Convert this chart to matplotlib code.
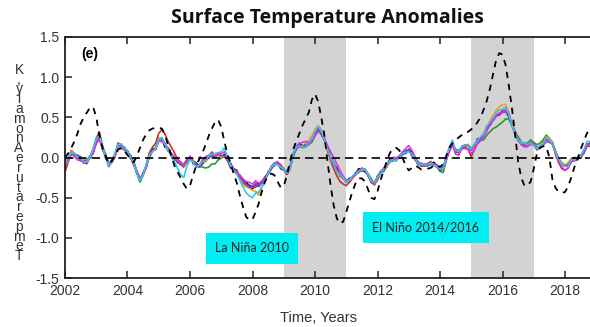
import numpy as np
import matplotlib
matplotlib.use("Agg")
import matplotlib.pyplot as plt

# ---------------- data ----------------
start_year = 2002.0
step = 0.1  # years between samples

# ensemble-mean surface temperature anomaly (K), one row per year, 0.1-yr samples
mean_anom = [
    -0.10, -0.03, 0.06, 0.04, 0.01, -0.02, -0.05, -0.05, 0.00, 0.07,   # 2002
    0.20, 0.24, 0.12, 0.02, -0.10, -0.04, 0.03, 0.16, 0.14, 0.10,      # 2003
    0.06, 0.00, -0.08, -0.18, -0.27, -0.21, -0.11, 0.02, 0.08, 0.12,   # 2004
    0.22, 0.23, 0.16, 0.10, 0.04, -0.01, -0.05, -0.08, -0.11, -0.05,   # 2005
    0.00, -0.05, -0.10, -0.11, -0.06, -0.03, 0.00, 0.03, 0.01, 0.03,   # 2006
    0.01, 0.02, -0.03, -0.10, -0.15, -0.18, -0.24, -0.30, -0.34, -0.36,  # 2007
    -0.37, -0.34, -0.35, -0.31, -0.27, -0.20, -0.13, -0.08, -0.07, -0.12,  # 2008
    -0.15, -0.19, -0.12, 0.03, 0.11, 0.15, 0.13, 0.15, 0.17, 0.21,     # 2009
    0.29, 0.35, 0.31, 0.22, 0.11, 0.00, -0.09, -0.16, -0.21, -0.26,    # 2010
    -0.30, -0.28, -0.25, -0.21, -0.17, -0.15, -0.16, -0.22, -0.29, -0.33,  # 2011
    -0.25, -0.19, -0.15, -0.10, -0.05, -0.03, -0.02, 0.00, 0.04, 0.07,  # 2012
    0.09, 0.04, -0.02, -0.07, -0.09, -0.10, -0.09, -0.08, -0.09, -0.11,  # 2013
    -0.15, -0.14, -0.01, 0.10, 0.17, 0.07, 0.07, 0.13, 0.14, 0.14,     # 2014
    0.10, 0.15, 0.21, 0.24, 0.28, 0.36, 0.42, 0.48, 0.52, 0.54,        # 2015
    0.56, 0.58, 0.52, 0.40, 0.30, 0.23, 0.18, 0.16, 0.15, 0.18,        # 2016
    0.16, 0.11, 0.14, 0.17, 0.22, 0.21, 0.17, 0.06, -0.03, -0.08,      # 2017
    -0.11, -0.10, -0.04, -0.03, -0.02, 0.01, 0.06, 0.15, 0.16,         # 2018
]

# ENSO-like index (black dashed curve)
enso_index = [
    0.00, 0.05, 0.12, 0.20, 0.30, 0.42, 0.50, 0.56, 0.62, 0.63,        # 2002
    0.50, 0.28, 0.12, 0.02, -0.08, -0.04, 0.02, 0.10, 0.12, 0.08,      # 2003
    0.03, -0.02, -0.06, 0.02, 0.12, 0.22, 0.29, 0.34, 0.36, 0.37,      # 2004
    0.37, 0.36, 0.28, 0.15, 0.02, -0.10, -0.18, -0.25, -0.33, -0.39,   # 2005
    -0.35, -0.22, -0.10, -0.02, 0.06, 0.16, 0.27, 0.36, 0.44, 0.47,    # 2006
    0.38, 0.20, 0.04, -0.08, -0.20, -0.32, -0.48, -0.62, -0.74, -0.78,  # 2007
    -0.77, -0.68, -0.57, -0.42, -0.30, -0.22, -0.20, -0.22, -0.30, -0.37,  # 2008
    -0.36, -0.22, -0.05, 0.10, 0.20, 0.30, 0.40, 0.48, 0.56, 0.72,     # 2009
    0.79, 0.70, 0.50, 0.28, -0.05, -0.35, -0.60, -0.76, -0.82, -0.80,  # 2010
    -0.68, -0.55, -0.42, -0.32, -0.26, -0.26, -0.30, -0.40, -0.50, -0.52,  # 2011
    -0.42, -0.28, -0.16, -0.04, 0.06, 0.11, 0.12, 0.09, 0.00, -0.10,   # 2012
    -0.16, -0.13, -0.10, -0.12, -0.15, -0.15, -0.14, -0.13, -0.10, -0.09,  # 2013
    -0.12, -0.08, 0.02, 0.12, 0.18, 0.22, 0.25, 0.28, 0.31, 0.32,      # 2014
    0.35, 0.38, 0.44, 0.50, 0.60, 0.71, 0.86, 1.04, 1.22, 1.30,        # 2015
    1.28, 1.15, 0.90, 0.62, 0.30, -0.05, -0.25, -0.35, -0.35, -0.30,   # 2016
    -0.14, 0.05, 0.12, 0.14, 0.14, 0.00, -0.28, -0.38, -0.43, -0.44,   # 2017
    -0.43, -0.36, -0.25, -0.12, -0.02, 0.10, 0.20, 0.30, 0.36,         # 2018
]

# individual ensemble members: departure from the mean, in hundredths of K
member_colors = ["black", "#d42a1c", "#1f9a2a", "#1f3ad0", "#ff9a10",
                 "#8a3fd0", "#e62ae6", "#2ac8e8"]

dev_black = [
    -3, 2, 0, -2, 1, 3, -1, 0, 2, -2,
    3, 5, -2, 1, 3, -2, 0, 2, -3, 1,
    2, -1, 3, 0, -2, 2, -1, 1, 3, -2,
    2, 0, -3, 2, 1, -2, 3, 0, -1, 2,
    -2, 1, 3, 0, -2, 1, 2, -1, 0, 3,
    -1, 2, 0, -3, 1, 2, -2, 0, 3, 1,
    -2, 1, 3, 0, -1, 2, 0, -2, 1, 3,
    1, -2, 0, 2, -1, 3, 0, -2, 1, 2,
    3, 0, -2, 1, 2, -1, 0, 3, -2, 1,
    0, 2, -1, 1, 3, 0, -2, 1, 2, -1,
    2, 0, -2, 1, 3, -1, 0, 2, 1, -2,
    1, 3, 0, -2, 1, 2, -1, 0, 3, 1,
    -2, 1, 0, 2, -1, 3, 1, -2, 0, 2,
    1, -2, 2, 0, -1, 3, -2, 0, 1, -1,
    2, 0, -1, 3, 1, -2, 0, 2, -1, 1,
    0, 2, -1, 1, 3, -2, 0, 1, 2, -1,
    2, -1, 0, 3, 1, -2, 1, 0, 2,
]
dev_red = [
    -8, -3, 3, 1, -2, 2, 0, -3, 1, 4,
    4, 8, 3, -1, 2, -1, -3, 2, 0, 3,
    1, 2, -2, 1, -3, 0, 2, 4, 5, 6,
    8, 12, 13, 10, 9, 7, 3, 0, 2, -2,
    1, -3, 2, 0, 3, -2, 1, 4, 2, 0,
    2, -1, 0, 2, 0, -2, 1, 3, 0, 2,
    0, -3, 2, 1, -2, 0, 2, 1, -1, 3,
    0, -2, -3, 1, 0, -2, 2, 0, -1, 2,
    2, 1, -2, 0, -3, -4, -5, -7, -9, -7,
    -5, -3, -1, 2, 0, -2, 1, 0, -2, -1,
    -3, 0, 2, -1, 1, 0, -2, 1, 2, 0,
    -1, 0, 2, 1, -2, 0, 1, 3, 0, 2,
    0, 2, -1, -3, 0, 2, -2, 1, -1, -4,
    -9, -5, -2, 0, 1, -2, 0, 2, 1, 0,
    2, -1, 0, 1, 3, 0, -2, 1, 2, 0,
    1, -2, 0, 2, 1, -1, 0, -3, -4, -6,
    -5, -3, -1, 0, 2, 1, 3, 0, -2,
]
dev_green = [
    2, 0, -3, 1, 0, -2, 2, 1, -1, 0,
    -2, 2, 0, -3, 2, 1, -1, 0, 2, -1,
    0, 3, 2, -1, -4, 0, 1, -2, 0, 1,
    -1, 0, 2, 1, -2, 1, 0, -1, 3, 2,
    0, 1, -2, 0, -6, -10, -12, -11, -9, -6,
    -2, 0, 1, 3, 0, -1, 2, 0, 1, -2,
    0, 2, -1, 1, 3, 0, -2, 1, 0, -1,
    -1, 2, 0, -2, 3, 2, -1, 1, 0, -2,
    -2, 0, 1, 3, 0, -1, 2, 0, -1, 1,
    2, 0, -1, 1, -2, 0, 1, 2, 3, 0,
    1, 2, 0, -2, 1, 0, -1, 1, 0, 2,
    0, -2, 1, 0, 2, 1, -2, 0, 1, 0,
    -2, -5, -3, 0, 1, -1, 2, 0, 1, 2,
    1, 0, -2, -3, -6, -8, -10, -12, -14, -13,
    -12, -10, -4, 0, 2, 3, 2, 1, 3, 4,
    3, 5, 4, 5, 6, 3, 2, 1, 0, 2,
    1, 3, 0, -1, 2, 1, 0, -2, 0,
]
dev_blue = [
    1, 3, -1, 0, 2, 1, -2, 0, 1, -1,
    0, -2, 1, 2, -1, 0, 2, -1, 0, 1,
    2, 0, -1, -2, 0, 1, -1, 2, 0, -1,
    -1, 1, 0, -2, 1, 2, -1, 0, 1, -1,
    1, 0, 2, -1, 0, 1, -1, 2, 0, 1,
    0, -1, 1, 2, 0, -1, 1, -2, 0, 1,
    1, 0, -1, 1, 2, 0, -1, 0, 1, -2,
    0, 1, -1, -2, 0, 1, 2, -1, 0, 1,
    -1, 2, 0, -1, 1, 0, 2, -1, 0, 1,
    1, -1, 0, 2, 0, -1, 1, 0, -2, 1,
    0, 1, -1, 0, 2, 1, -1, 0, 1, 0,
    1, -1, 0, 2, -1, 0, 1, -1, 0, 1,
    0, 1, 2, -1, 0, 1, -1, 0, 2, 1,
    -1, 1, 0, -1, 2, 0, 1, -2, 0, 1,
    0, 1, -1, 0, 2, -1, 0, 1, -1, 0,
    1, 0, -1, 1, 0, 2, -1, 0, 1, -1,
    0, 1, -1, 0, 1, 0, -1, 2, 0,
]
dev_orange = [
    0, -2, 2, 1, -1, 0, 3, -1, 0, 2,
    1, 0, -2, 1, 0, 2, -1, 0, -2, 1,
    0, 1, -1, 0, 2, -2, 0, 1, 0, -1,
    2, 0, 1, -1, 0, 2, -1, 1, 0, -2,
    0, 2, -1, 1, 0, -1, 2, 0, 3, 1,
    -1, 0, 2, -1, 0, 1, -2, -4, -3, -2,
    -4, -8, -12, -6, -3, 0, 1, -1, 0, 2,
    1, -1, 0, 2, 0, -1, 1, 3, 4, 6,
    6, 5, 4, 1, 0, -2, 0, 1, -1, 0,
    1, 0, -2, 0, 1, -1, 0, 2, 1, 0,
    -1, 0, 1, -1, 0, 2, 0, -1, 1, 0,
    0, 1, -1, 0, 2, 0, -1, 1, 0, -1,
    1, 0, -1, 0, 1, 2, 0, -1, 0, 2,
    0, -2, 1, 0, 3, 2, 4, 5, 7, 9,
    10, 8, 5, 2, 1, 0, 2, 1, 0, 2,
    1, 0, 2, 1, 4, 3, 1, 0, -1, 2,
    0, 4, 3, 2, 1, 0, 2, 1, 0,
]
dev_purple = [
    0, 1, -2, 0, 1, -1, 0, 2, -1, 0,
    -1, 0, 1, 0, -2, 1, 0, -1, 1, 0,
    1, -1, 0, 1, 0, -1, 1, 0, -1, 0,
    0, -1, 1, 0, 1, 0, -1, 0, 1, 0,
    -1, 0, 1, -1, 0, 2, 1, 0, -1, 1,
    1, 0, -1, 0, 1, 0, -1, 1, 0, -1,
    0, 1, 0, -1, 1, 0, 1, -1, 0, 1,
    1, 0, -1, 1, 0, -1, 0, 1, 0, -1,
    0, 1, -1, 0, 1, 0, -1, 1, 0, 0,
    -1, 0, 1, 0, -1, 1, 0, -1, 0, 1,
    0, -1, 0, 1, 0, -1, 1, 0, -1, 0,
    1, 0, -1, 0, 1, 0, -1, 1, 0, -1,
    0, 1, 0, -1, 0, 1, 0, -1, 1, 0,
    -1, 0, 1, 0, -1, 0, 1, 0, -1, 0,
    0, -1, 1, 0, -1, 1, 0, -1, 0, 1,
    1, 0, -1, 0, 1, -1, 0, 1, 0, -1,
    0, 1, 0, -1, 0, 1, -1, 0, 1,
]
dev_magenta = [
    2, -2, 0, -3, -4, -2, 0, -1, 2, -2,
    -3, -1, 0, 2, 1, -2, 0, -1, 2, 0,
    -1, 2, 0, 1, 2, 0, -2, 1, 0, -1,
    -2, -3, 0, -1, 1, 0, 2, 3, 1, 0,
    2, 0, -1, 1, 3, 4, 3, 2, 0, 1,
    4, 5, 3, 1, 0, -1, 2, 3, 4, 5,
    4, 5, 3, 2, 0, 1, -1, 0, 2, 0,
    -1, 0, 2, 1, 3, 2, 6, 5, 2, 0,
    -2, -3, 0, 2, 4, 7, 9, 8, 5, 3,
    2, 0, 1, -1, 0, 2, 1, 0, -1, 2,
    1, 0, 2, 1, 0, 3, 2, 1, 3, 4,
    6, 5, 3, 1, 0, -1, 2, 0, 1, 2,
    0, -1, -2, 0, -2, -3, -4, -2, -3, -4,
    -5, -6, -4, -3, -2, -3, -1, -2, 0, 1,
    0, 2, 3, 1, 0, -1, -2, -3, -1, -2,
    0, -1, 0, -2, -3, -1, 0, 1, -2, -4,
    -5, -3, -2, 0, -1, 2, 1, 0, 1,
]
dev_cyan = [
    2, 3, 0, 1, -1, 2, -1, 0, 1, 3,
    4, 3, 2, 0, -1, 1, 2, 0, 3, 2,
    1, 0, 2, -1, -2, 0, 2, 1, -1, 0,
    0, 2, 1, 0, -2, -4, -8, -13, -14, -6,
    -3, 0, -2, 2, 1, 0, 2, 1, 4, 3,
    6, 10, 4, 0, -2, -3, -5, -7, -10, -12,
    -13, -10, -8, -5, -3, 0, 1, 0, -2, 0,
    1, -1, -2, 0, 2, -1, 0, -2, 1, 2,
    3, 4, 2, 0, -1, 1, 0, -2, 0, 1,
    -1, 0, 2, 1, -1, 0, 2, 1, 0, 2,
    1, -1, 0, 2, 1, 0, -2, 0, 1, -1,
    -2, 0, 1, -1, 0, 2, 0, 1, -1, 0,
    1, 0, 2, 3, 5, 2, 0, 1, 2, 0,
    1, 2, 0, 2, 1, 3, 2, 1, 4, 5,
    4, 5, 2, 0, 1, -1, 0, 2, 1, 0,
    -1, 0, 1, 0, 2, 1, -1, 0, 1, -1,
    0, -1, 1, 0, 2, 1, 3, 5, 4,
]
member_devs = [dev_black, dev_red, dev_green, dev_blue, dev_orange,
               dev_purple, dev_magenta, dev_cyan]

enso_periods = [(2009.0, 2011.0), (2015.0, 2017.0)]
event_labels = [("La Niña 2010", 2007.98, -1.13),
                ("El Niño 2014/2016", 2013.55, -0.87)]
x_ticks = [2002, 2004, 2006, 2008, 2010, 2012, 2014, 2016, 2018]
y_ticks = [-1.5, -1.0, -0.5, 0.0, 0.5, 1.0, 1.5]
y_title = "Temperature Anomaly, K"

# ---------------- figure ----------------
W, H = 590, 327
fig = plt.figure(figsize=(W / 100, H / 100), dpi=100)
ax = fig.add_axes([65 / W, 1 - 278 / H, 1 - 65 / W, (278 - 37) / H])

years = start_year + step * np.arange(len(mean_anom))
mean_arr = np.array(mean_anom)

for a, b in enso_periods:
    ax.axvspan(a, b, color="#d3d3d3", lw=0, zorder=0)

for col, dev in zip(member_colors, member_devs):
    ax.plot(years, mean_arr + np.array(dev) / 100.0, color=col, lw=1.15,
            zorder=2, solid_joinstyle="miter")

ax.axhline(0.0, color="black", lw=1.2, dashes=(5, 3), zorder=3)
ax.plot(years, enso_index, color="black", lw=1.3, dashes=(3.5, 3.2), zorder=4)

ax.set_xlim(2002, 2018.8)
ax.set_ylim(-1.5, 1.5)
ax.set_xticks(x_ticks)
ax.set_yticks(y_ticks)
ax.set_yticklabels([f"{v:.1f}" for v in y_ticks])

for s in ["left", "bottom", "top"]:
    ax.spines[s].set_linewidth(1.3)
    ax.spines[s].set_color("#222222")
ax.spines["right"].set_visible(False)

ax.tick_params(axis="both", direction="in", length=5, width=1.1,
               labelsize=10, colors="#222222", labelcolor="#333333",
               top=True, pad=4)
for lab in ax.get_xticklabels() + ax.get_yticklabels():
    lab.set_fontfamily("Liberation Sans")

ax.text(0.03, 0.93, "(e)", transform=ax.transAxes, fontsize=10,
        fontweight="bold", family="Liberation Sans", va="center")

for txt, xv, yv in event_labels:
    ax.text(xv, yv, txt, ha="center", va="center", fontsize=9,
            family="Lato", color="#222222", zorder=6,
            bbox=dict(boxstyle="square,pad=0.75", fc="#00eef2", ec="none"))

fig.text(327 / W, 1 - 18 / H, "Surface Temperature Anomalies",
         ha="center", va="center", fontsize=14, fontweight="bold",
         family="Open Sans", color="#111111")
fig.text(318 / W, 1 - 318 / H, "Time, Years", ha="center", va="center",
         fontsize=10.5, family="Liberation Sans", color="#333333")

# axis title written as a column of characters, last letter on top
stacked = "\n".join(ch for ch in y_title[::-1] if ch != " ")
fig.text(19 / W, 1 - 163 / H, stacked, ha="center", va="center",
         fontsize=10, family="Liberation Sans", color="#333333",
         linespacing=0.62, multialignment="center")

fig.savefig("out.png", dpi=100)
